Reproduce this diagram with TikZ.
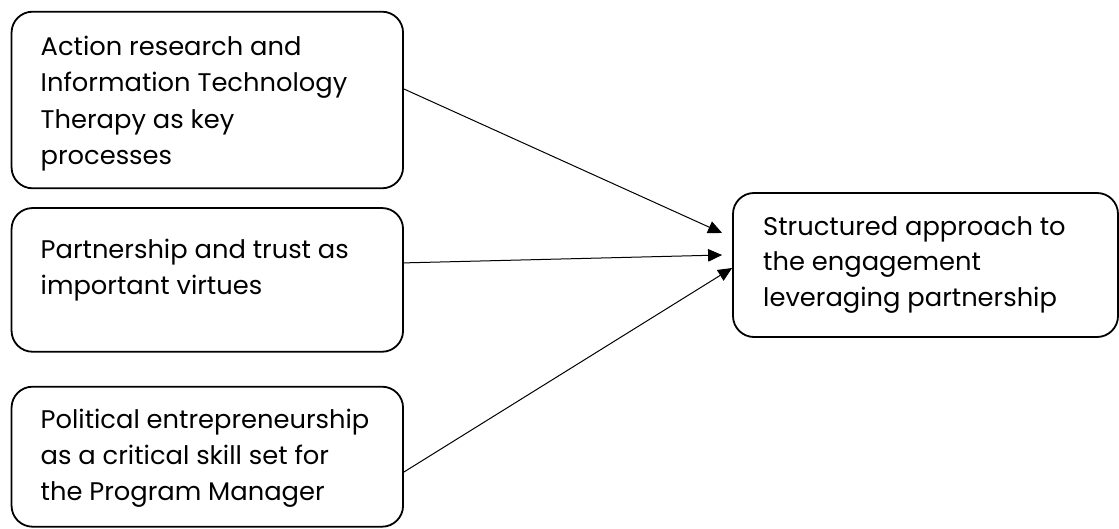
\documentclass[tikz,border=0pt]{standalone}
\usepackage{fontspec}
\setmainfont{Poppins}[FakeStretch=1.01]
\usetikzlibrary{arrows.meta}
\newcommand{\mylines}[2]{\vtop{\baselineskip=#1\relax\lineskip=0pt\halign{##\hfil\cr#2\crcr}}}
\begin{document}
\begin{tikzpicture}[x=1pt,y=-1pt,
  box/.style={draw=black, line width=1.8pt, rounded corners=21pt, inner sep=0pt},
  txt/.style={anchor=base west, inner sep=0pt, font=\fontsize{25.5}{36}\selectfont},
  arr/.style={draw=black, line width=1pt, -{Triangle[length=14pt,width=12.5pt]}}]
\useasboundingbox (0,0) rectangle (1119,529);
\node[box, minimum width=391.5pt, minimum height=176.6pt] (b1) at (207.3,100) {};
\node[box, minimum width=391.5pt, minimum height=143.7pt] (b2) at (207.3,279.9) {};
\node[box, minimum width=391.5pt, minimum height=140pt] (b3) at (207.3,456.7) {};
\node[box, minimum width=385pt, minimum height=144pt] (b4) at (925.5,265) {};
\node[txt] (t1) at (40.5,55.5) {\mylines{36.5pt}{Action research and\cr Information Technology\cr Therapy as key\cr processes}};
\node[txt] (t2) at (40.5,258.5) {\mylines{36.5pt}{Partnership and trust as\cr important virtues}};
\node[txt] (t3) at (40.5,428.5) {\mylines{35.8pt}{Political entrepreneurship\cr as a critical skill set for\cr the Program Manager}};
\node[txt] (t4) at (763,235.5) {\mylines{35.5pt}{Structured approach to\cr the engagement\cr leveraging partnership}};
\draw[arr] ([yshift=11pt]b1.east) -- ([xshift=-10pt,yshift=32pt]b4.west);
\draw[arr] ([yshift=17pt]b2.east) -- ([xshift=-10pt,yshift=10pt]b4.west);
\draw[arr] ([yshift=-15.3pt]b3.east) -- ([yshift=-3pt]b4.west);
\end{tikzpicture}
\end{document}
